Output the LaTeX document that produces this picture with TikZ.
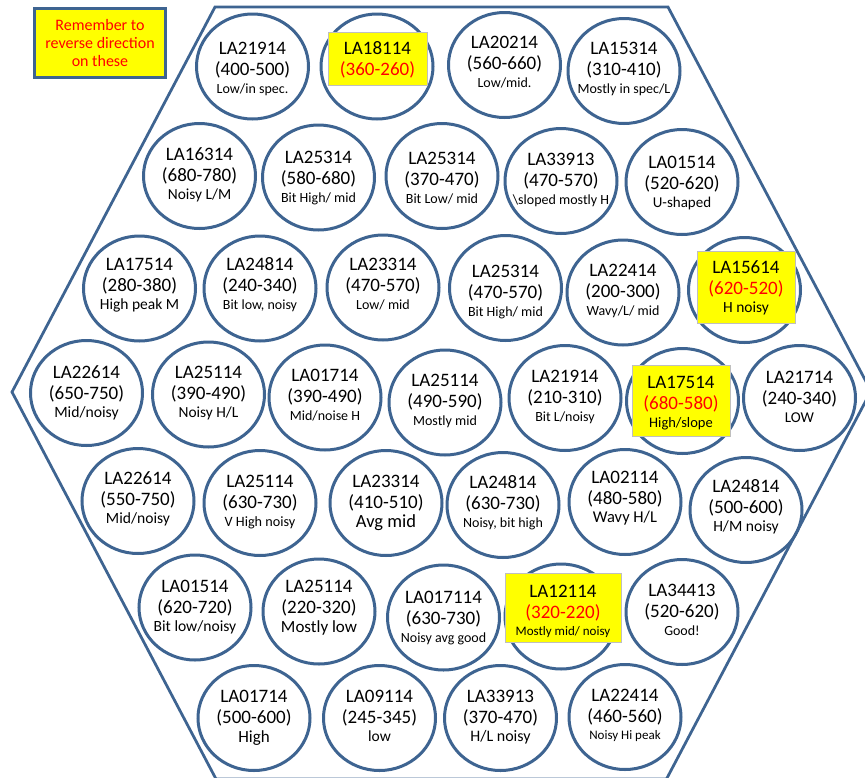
\documentclass[tikz,border=0pt]{standalone}
\usepackage{fontspec}
\setmainfont{Carlito}
\usetikzlibrary{shapes.geometric}
\definecolor{hexblue}{RGB}{62,100,145}
\definecolor{hlyellow}{RGB}{255,255,0}
\definecolor{hlred}{RGB}{255,0,0}
\newcommand\fs[1]{\fontsize{#1}{#1}\selectfont}
\newcommand\red[1]{{\color{hlred}#1}}
% name, x, ty, L1, L2, L3, size3
\newcommand\threelines[7]{%
  \node[txtline, font={\fs{19}}] (#1a) at (#2,#3-15) {#4};
  \node[txtline, font={\fs{19}}] (#1b) at (#2,#3+6) {#5};
  \node[txtline, font={\fs{#7}}] (#1c) at (#2,#3+20+0.3*#7) {#6};}
\newcommand\twolines[5]{%
  \node[txtline, font={\fs{19}}] (#1a) at (#2,#3-15) {#4};
  \node[txtline, font={\fs{19}}] (#1b) at (#2,#3+6) {#5};}
% name, cx, cy, ty, L1, L2, L3, size3
\newcommand\disk[8]{%
  \node[disk] (#1) at (#2,#3) {};
  \threelines{#1}{#2}{#4}{#5}{#6}{#7}{#8}}
\tikzset{
  disk/.style={ellipse, draw=hexblue, line width=3pt, minimum width=112pt,
    minimum height=105pt, inner sep=0pt, outer sep=0pt},
  txtline/.style={anchor=base, inner sep=0pt, outer sep=0pt, text=black},
  hlbox/.style={rectangle, fill=hlyellow, draw=black!25, line width=0.75pt, inner sep=0pt},
  hexline/.style={draw=hexblue, line width=2.75pt, line join=miter},
  notebox/.style={rectangle, fill=hlyellow, draw=hexblue, line width=3pt, inner sep=0pt,
    minimum width=131pt, minimum height=69pt, align=center, text=hlred,
    font={\fontsize{16}{18}\selectfont}}
}
\begin{document}
\begin{tikzpicture}[x=1pt,y=-1pt]
\useasboundingbox (0,0) rectangle (865,777);
\clip (0,0) rectangle (865,777);
\fill[white] (0,0) rectangle (865,777);
% hexagon frame
\draw[hexline] (215,7) -- (668,7) -- (871,391) -- (666.5,779) -- (216,779) -- (12,392) -- cycle;
% note
\node[notebox] (note) at (100,43) {Remember to\\reverse direction\\on these};
% row 1
\disk{a1}{252.5}{66.5}{69}{LA21914}{(400-500)}{Low/in spec.}{14}
\node[disk] (a2) at (377,66.5) {};
\node[hlbox, minimum width=99pt, minimum height=53pt] (a2box) at (377.5,58.5) {};
\twolines{a2}{377.5}{69}{LA18114}{\red{(360-260)}}
\disk{a3}{504.5}{65}{63}{LA20214}{(560-660)}{Low/mid.}{14}
\disk{a4}{624}{71}{69}{LA15314}{(310-410)}{Mostly in spec/L}{14}
% row 2
\disk{b1}{199.5}{176}{175}{LA16314}{(680-780)}{Noisy L/M}{15.4}
\disk{b2}{318.5}{177.5}{178}{LA25314}{(580-680)}{Bit High/ mid}{14}
\disk{b3}{442}{176}{179}{LA25314}{(370-470)}{Bit Low/ mid}{14}
\disk{b4}{561}{181}{180}{LA33913}{(470-570)}{\textbackslash sloped mostly H}{14}
\disk{b5}{682}{182}{183}{LA01514}{(520-620)}{U-shaped}{15}
% row 3
\disk{c1}{139.5}{288.5}{285}{LA17514}{(280-380)}{High peak M}{15.5}
\disk{c2}{260}{288.5}{285}{LA24814}{(240-340)}{Bit low, noisy}{14}
\disk{c3}{383}{287.5}{285}{LA23314}{(470-570)}{Low/ mid}{14}
\disk{c4}{505.5}{288}{292}{LA25314}{(470-570)}{Bit High/ mid}{14}
\disk{c5}{623}{292.5}{291}{LA22414}{(200-300)}{Wavy/L/ mid}{14}
\node[disk] (c6) at (744.5,290) {};
\node[hlbox, minimum width=98pt, minimum height=72pt] (c6box) at (746,287) {};
\threelines{c6}{746}{288}{LA15614}{\red{(620-520)}}{H noisy}{15.5}
% row 4
\disk{d1}{86.5}{393}{393}{LA22614}{(650-750)}{Mid/noisy}{15.7}
\disk{d2}{208.5}{394.5}{393}{LA25114}{(390-490)}{Noisy H/L}{15.4}
\disk{d3}{325}{397.5}{396}{LA01714}{(390-490)}{Mid/noise H}{14}
\disk{d4}{445}{402.5}{401}{LA25114}{(490-590)}{Mostly mid}{14}
\disk{d5}{565}{398}{397}{LA21914}{(210-310)}{Bit L/noisy}{14}
\node[disk] (d6) at (682.5,401) {};
\node[hlbox, minimum width=98pt, minimum height=71pt] (d6box) at (681,400.5) {};
\threelines{d6}{681}{403}{LA17514}{\red{(680-580)}}{High/slope}{14.5}
\disk{d7}{799.5}{398}{398}{LA21714}{(240-340)}{LOW}{15}
% row 5
\disk{e1}{138}{501}{499}{LA22614}{(550-750)}{Mid/noisy}{15.6}
\disk{e2}{260}{503}{502}{LA25114}{(630-730)}{V High noisy}{14.2}
\disk{e3}{386}{503}{502}{LA23314}{(410-510)}{Avg mid}{18.5}
\disk{e4}{503}{505}{503}{LA24814}{(630-730)}{Noisy, bit high}{14}
\disk{e5}{625}{502}{498}{LA02114}{(480-580)}{Wavy H/L}{16.5}
\disk{e6}{746}{510}{507}{LA24814}{(500-600)}{H/M noisy}{15.6}
% row 6
\disk{f1}{195}{607.5}{607}{LA01514}{(620-720)}{Bit low/noisy}{15.6}
\disk{f2}{319}{611.5}{607}{LA25114}{(220-320)}{Mostly low}{17}
\disk{f3}{443.5}{617.5}{618}{LA017114}{(630-730)}{Noisy avg good}{14}
\node[disk] (f4) at (561,616.5) {};
\node[hlbox, minimum width=116pt, minimum height=69pt] (f4box) at (563,607.5) {};
\threelines{f4}{563}{612}{LA12114}{\red{(320-220)}}{Mostly mid/ noisy}{13}
\disk{f5}{682}{612}{611}{LA34413}{(520-620)}{Good!}{14}
% row 7
\disk{g1}{254}{718}{717}{LA01714}{(500-600)}{High}{17}
\disk{g2}{379.5}{718}{717}{LA09114}{(245-345)}{low}{15.5}
\disk{g3}{500.5}{718}{717}{LA33913}{(370-470)}{H/L noisy}{16}
\disk{g4}{625}{717}{716}{LA22414}{(460-560)}{Noisy Hi peak}{13}
\end{tikzpicture}
\end{document}
